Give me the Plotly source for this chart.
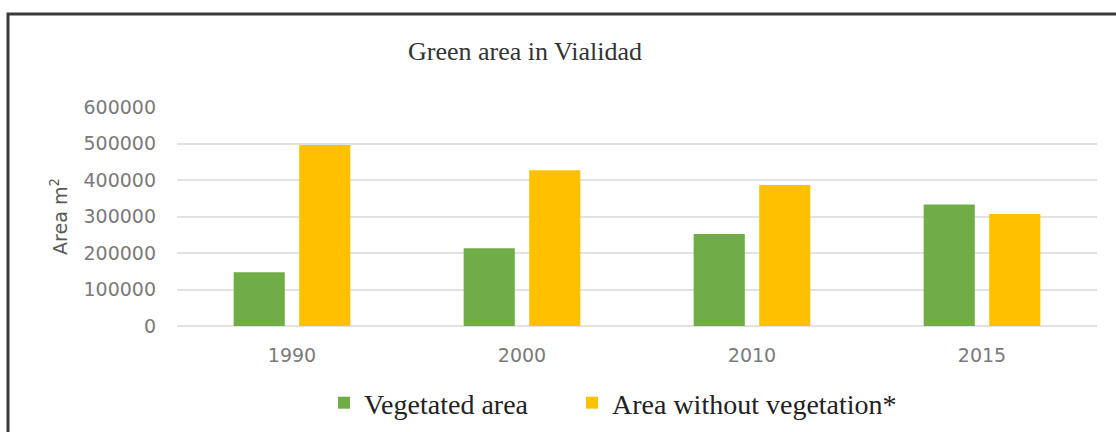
import plotly.graph_objects as go

years = ["1990", "2000", "2010", "2015"]
vegetated = [147000, 213000, 252000, 333000]
without_veg = [496000, 427000, 386000, 307000]
y_ticks = [0, 100000, 200000, 300000, 400000, 500000, 600000]

fig = go.Figure()
fig.add_trace(go.Bar(x=years, y=vegetated, name="Vegetated area",
                     marker=dict(color="#70AD47", line=dict(width=0)),
                     legend="legend"))
fig.add_trace(go.Bar(x=years, y=without_veg, name="Area without vegetation*",
                     marker=dict(color="#FFC000", line=dict(width=0)),
                     legend="legend2"))

W, H = 1116, 432
L, R, T, B = 177, 19, 107, 106
pw, ph = W - L - R, H - T - B

legend_common = dict(orientation="h", xanchor="left",
                     y=(H - B - 403) / ph, yanchor="middle",
                     font=dict(family="Liberation Serif", size=28, color="#222222"),
                     bgcolor="rgba(0,0,0,0)")

fig.update_layout(
    width=W, height=H,
    margin=dict(l=L, r=R, t=T, b=B, autoexpand=False),
    paper_bgcolor="white", plot_bgcolor="white",
    barmode="group", bargap=0.43, bargroupgap=0.22,
    title=dict(text="Green area in Vialidad", x=525 / W, xanchor="center",
               y=1 - 51 / H, yanchor="middle",
               font=dict(family="Liberation Serif", size=26, color="#333333")),
    showlegend=True,
    legend=dict(x=(324 - L) / pw, **legend_common),
    legend2=dict(x=(572 - L) / pw, **legend_common),
    xaxis=dict(showgrid=False, showline=False, zeroline=False,
               tickfont=dict(family="DejaVu Sans", size=19, color="#7a7a7a"),
               ticklabelstandoff=16, automargin=False),
    yaxis=dict(range=[0, 600000], tickvals=y_ticks,
               ticktext=[str(v) for v in y_ticks],
               showgrid=True, gridcolor="#e2e2e2", gridwidth=1.6,
               zeroline=True, zerolinecolor="#e2e2e2", zerolinewidth=1.6,
               showline=False,
               tickfont=dict(family="DejaVu Sans", size=19, color="#7a7a7a"),
               ticklabelstandoff=20, automargin=False,
               title=dict(text="Area m<sup>2</sup>", standoff=10,
                          font=dict(family="DejaVu Sans", size=19, color="#595959"))),
)

fig.add_shape(type="rect", xref="paper", yref="paper",
              x0=(8 - L) / pw, x1=(1160 - L) / pw,
              y0=(H - B - 470) / ph, y1=(H - B - 14) / ph,
              line=dict(color="#3a3a3a", width=3), fillcolor="rgba(0,0,0,0)",
              layer="below")

fig.write_html("out.html", config={"displayModeBar": False},
               post_script="document.body.style.margin='0';document.body.style.overflow='hidden';")
